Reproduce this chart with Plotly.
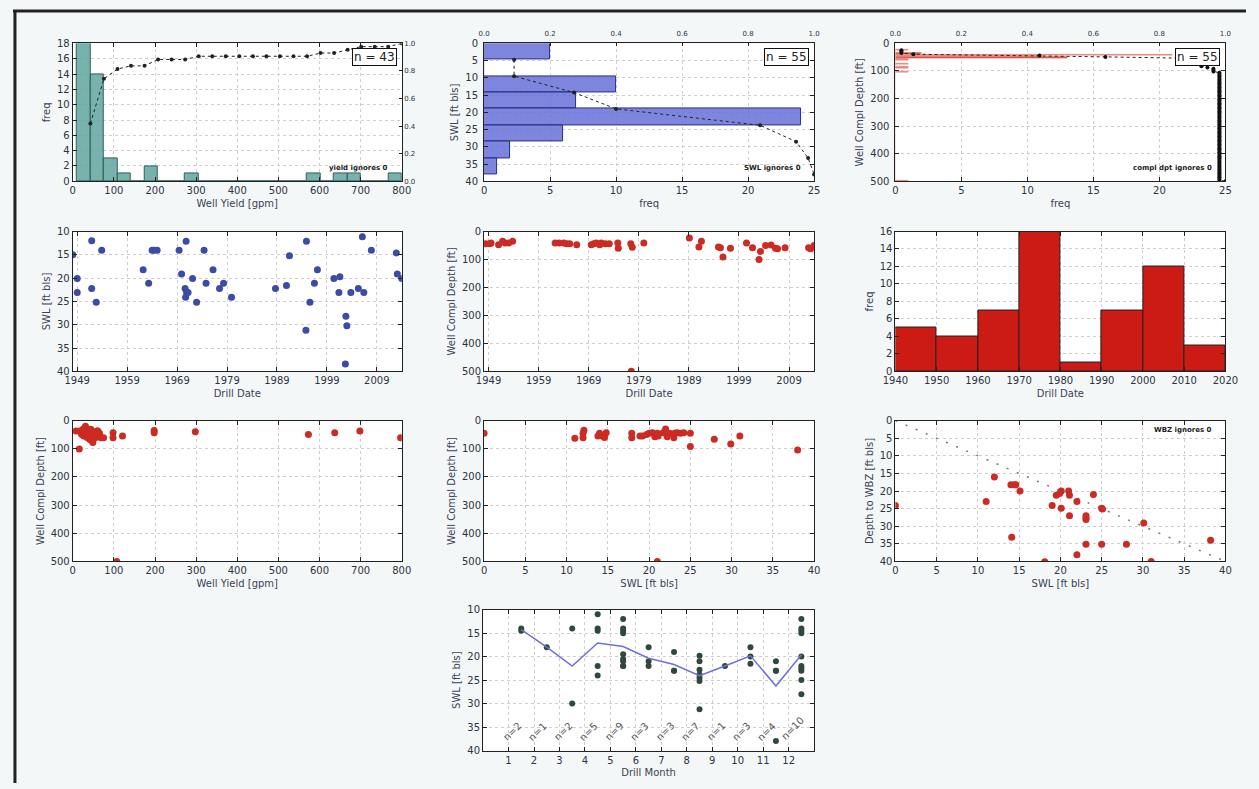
import numpy as np
import plotly.graph_objects as go

W, H = 1259, 789

# ---------------- data ----------------
# Panel 1: well yield histogram (24 bins between min and max yield)
yield_min, yield_max = 10, 800
yield_counts = [18, 14, 3, 1, 0, 2, 0, 0, 1, 0, 0, 0, 0, 0, 0, 0, 0, 1, 0, 1, 1, 0, 0, 1]

# Panel 2: SWL histogram (8 bins)
swl_min, swl_max = 0, 38
swl_counts = [5, 0, 10, 7, 24, 6, 2, 1]

# Panel 3: completion depth histogram (100 bins), non-zero bins listed
depth_min, depth_max, depth_nbins = 20, 500, 100
depth_bin_index = [0, 3, 4, 5, 6, 7, 8, 11, 13, 14, 17, 99]
depth_bin_count = [1, 2, 21, 11, 13, 1, 1, 1, 1, 1, 1, 1]

# Panel 4: SWL vs drill date
swl_dates = [1948.1, 1949.0, 1949.0, 1951.9, 1951.9, 1952.8, 1953.9, 1962.2, 1963.3, 1964.0,
             1964.4, 1965.0, 1969.4, 1969.9, 1970.8, 1970.6, 1970.9, 1971.2, 1970.7, 1972.1,
             1972.9, 1974.4, 1974.8, 1976.2, 1977.5, 1978.3, 1979.9, 1988.7, 1990.9, 1991.5,
             1994.9, 1994.8, 1995.6, 1996.5, 1997.1, 2000.4, 2001.6, 2001.4, 2002.8, 2003.0,
             2002.7, 2003.8, 2005.3, 2006.1, 2006.4, 2007.9, 2012.9, 2013.1, 2014.0]
swl_vals = [15.0, 20.1, 23.1, 12.0, 22.2, 25.2, 14.0, 18.2, 21.1, 14, 14, 14, 14, 19.1, 12.1,
            22.2, 23.1, 23.1, 24.1, 20.1, 25.2, 14, 21.1, 18.2, 22.2, 21.1, 24.1, 22.2, 21.6,
            15.2, 12.1, 31.2, 25.2, 21.1, 18.2, 20.1, 19.7, 23.1, 28.2, 30.2, 38.4, 23.1, 22.2,
            11.1, 23.1, 14.0, 14.6, 19.1, 20.1]

# Panel 5: completion depth vs drill date
dep_dates = [1948.4, 1949.2, 1949.5, 1951.0, 1951.8, 1952.3, 1953.0, 1953.8, 1962.3, 1963.1,
             1964.0, 1964.6, 1965.2, 1966.6, 1969.5, 1970.0, 1970.5, 1971.2, 1971.5, 1972.3,
             1973.1, 1974.8, 1974.9, 1977.4, 1977.7, 1980.0, 1977.5, 1989.1, 1991.0, 1991.5,
             1994.9, 1995.3, 1995.8, 1997.3, 2000.5, 2001.7, 2003.0, 2003.3, 2004.3, 2005.4,
             2006.3, 2006.7, 2008.2, 2012.9, 2013.3, 2014.0]
dep_vals = [44, 44, 41, 47, 35, 41, 41, 35, 41, 41, 41, 44, 44, 47, 47, 44, 41, 47, 41, 44,
            44, 41, 60, 44, 56, 41, 500, 23, 55, 35, 55, 58, 91, 60, 41, 58, 100, 71, 50, 48,
            60, 62, 58, 58, 62, 50]
date_range = [1948.1, 2014.0]
date_ticks = [1949, 1959, 1969, 1979, 1989, 1999, 2009]

# Panel 6: drill date histogram
decade_edges = [1940, 1950, 1960, 1970, 1980, 1990, 2000, 2010, 2020]
decade_counts = [5, 4, 7, 16, 1, 7, 12, 3]

# Panel 7: depth vs yield
yd_yield = [8, 16, 17, 20, 22, 25, 27, 29, 30, 31, 33, 35, 36, 38, 40, 41, 43, 44, 45, 47, 49,
            50, 52, 55, 57, 59, 61, 63, 65, 69, 75, 98, 98, 107, 121, 198, 198, 298, 573, 637,
            698, 797]
yd_depth = [37, 101, 37, 43, 49, 31, 55, 26, 43, 20, 49, 60, 37, 55, 43, 66, 49, 31, 70, 55, 78,
            43, 41, 61, 49, 37, 37, 55, 45, 61, 61, 43, 61, 500, 55, 35, 43, 40, 49, 43, 37, 61]

# Panel 8: depth vs SWL
sd_swl = [0, 11, 12, 12, 12.1, 13.8, 14, 14.3, 14.8, 14.6, 17.9, 17.9, 18.9, 19.2, 19.7, 20,
          20.4, 20.7, 21, 21.1, 21.7, 22, 22.2, 22.5, 23, 23.1, 23.4, 23.8, 24.2, 25, 25, 27.9,
          29.9, 31, 38, 21]
sd_depth = [45, 63, 61, 45, 34, 55, 45, 55, 43, 60, 45, 61, 55, 55, 49, 45, 43, 57, 45, 55, 43,
            30, 57, 45, 61, 45, 43, 45, 43, 45, 92, 66, 83, 55, 104, 500]

# Panel 9: depth to WBZ vs SWL
wbz_swl = [0, 11, 12, 14, 14.4, 14.6, 14.1, 15.1, 18.1, 19.0, 19.5, 19.9, 20.1, 20.1, 21, 21.1,
           21.1, 22, 22, 23.1, 23.1, 23.1, 23.1, 24, 25, 25.1, 25, 28, 30.1, 31, 38.2]
wbz_depth = [24.1, 23, 16, 18.2, 18.2, 18.2, 33.1, 20, 40.1, 24.1, 21.2, 20.7, 20, 24.9, 20,
             21.2, 27, 23, 38.1, 27, 27.7, 28.1, 35.1, 21, 24.9, 25.1, 35.1, 35.1, 29.1, 40, 34]

# Panel 10: SWL by drill month
months = [1, 2, 3, 4, 5, 6, 7, 8, 9, 10, 11, 12]
month_swl = [
    [14, 14.5],
    [18],
    [14, 30],
    [11, 14, 14.5, 22, 24],
    [12, 14, 14.5, 15, 19.5, 20.5, 21, 22, 22],
    [18, 21, 22],
    [19, 23, 23],
    [19.8, 21, 22.8, 23.8, 24.5, 25.2, 31.2],
    [22],
    [18, 20, 21.5],
    [21, 23, 23, 38],
    [12, 14, 14.5, 15, 20, 22, 22.5, 23, 25, 28],
]

# ---------------- style ----------------
FONT = "DejaVu Sans"
TXT = "#2e3340"
TEAL_FILL = "rgba(95,165,158,0.85)"
BLUE_FILL = "rgba(102,112,214,0.85)"
RED = "#cc2a22"
DOT_BLUE = "#3b4ba6"
GREEN = "#2f4a3c"

cols = [(61, 397), (481, 818), (901, 1238)]
rows = [(38, 178), (229, 371), (421, 564), (613, 756)]


def dx(c):
    return [c[0] / W, c[1] / W]


def dy(r):
    return [1 - r[1] / H, 1 - r[0] / H]


def ax(**kw):
    d = dict(showline=True, linecolor="#222", linewidth=1, ticks="inside", ticklen=4,
             tickcolor="#222", tickfont=dict(size=10, color=TXT, family=FONT),
             showgrid=True, gridcolor="#cfcfcf", griddash="dot", gridwidth=1,
             zeroline=False, title_font=dict(size=10, color="#3a4254", family=FONT),
             title_standoff=4)
    d.update(kw)
    return d


def sec(**kw):
    d = dict(showline=True, linecolor="#222", linewidth=1, ticks="inside", ticklen=3,
             tickcolor="#222", tickfont=dict(size=7, color=TXT, family=FONT),
             showgrid=False, zeroline=False, range=[0, 1], dtick=0.2, tickformat=".1f")
    d.update(kw)
    return d


fig = go.Figure()

# ---- Panel 1 ----
y_edges = np.linspace(yield_min, yield_max, len(yield_counts) + 1)
y_width = y_edges[1] - y_edges[0]
y_centers = (y_edges[:-1] + y_edges[1:]) / 2
fig.add_trace(go.Bar(x=y_centers, y=yield_counts, width=y_width, marker=dict(
    color=TEAL_FILL, line=dict(color="#2f5f5c", width=1)), xaxis="x", yaxis="y"))
y_cdf = np.cumsum(yield_counts) / np.sum(yield_counts)
fig.add_trace(go.Scatter(x=y_edges[1:], y=y_cdf, mode="lines+markers",
                         line=dict(color="#222", width=1, dash="dot"),
                         marker=dict(color="#222", size=4), xaxis="x", yaxis="y2"))

# ---- Panel 2 ----
s_edges = np.linspace(swl_min, swl_max, len(swl_counts) + 1)
s_width = s_edges[1] - s_edges[0]
s_centers = (s_edges[:-1] + s_edges[1:]) / 2
fig.add_trace(go.Bar(y=s_centers, x=swl_counts, width=s_width, orientation="h", marker=dict(
    color=BLUE_FILL, line=dict(color="#27318a", width=1)), xaxis="x2", yaxis="y3"))
s_cdf = np.cumsum(swl_counts) / np.sum(swl_counts)
fig.add_trace(go.Scatter(x=s_cdf, y=s_edges[1:], mode="lines+markers",
                         line=dict(color="#222", width=1, dash="dot"),
                         marker=dict(color="#222", size=4), xaxis="x3", yaxis="y3"))

# ---- Panel 3 ----
d_edges = np.linspace(depth_min, depth_max, depth_nbins + 1)
d_width = d_edges[1] - d_edges[0]
d_full = np.zeros(depth_nbins)
for i, c in zip(depth_bin_index, depth_bin_count):
    d_full[i] = c
d_centers = (d_edges[:-1] + d_edges[1:]) / 2
fig.add_trace(go.Bar(y=d_centers, x=d_full, width=d_width, orientation="h", marker=dict(
    color="#d0463a", line=dict(color="#f0b0a8", width=0.5)), xaxis="x4", yaxis="y4"))
d_cdf = np.cumsum(d_full) / np.sum(d_full)
fig.add_trace(go.Scatter(x=d_cdf, y=d_edges[1:], mode="lines+markers",
                         line=dict(color="#222", width=1, dash="dot"),
                         marker=dict(color="#111", size=4), xaxis="x5", yaxis="y4"))

# ---- Panel 4 ----
fig.add_trace(go.Scatter(x=swl_dates, y=swl_vals, mode="markers",
                         marker=dict(color=DOT_BLUE, size=7), xaxis="x6", yaxis="y5"))
# ---- Panel 5 ----
fig.add_trace(go.Scatter(x=dep_dates, y=dep_vals, mode="markers",
                         marker=dict(color=RED, size=7), xaxis="x7", yaxis="y6"))
# ---- Panel 6 ----
dec_centers = [(a + b) / 2 for a, b in zip(decade_edges[:-1], decade_edges[1:])]
fig.add_trace(go.Bar(x=dec_centers, y=decade_counts, width=10,
                     marker=dict(color="#cc1a14", line=dict(color="#222", width=1)),
                     xaxis="x8", yaxis="y7"))
# ---- Panel 7 ----
fig.add_trace(go.Scatter(x=yd_yield, y=yd_depth, mode="markers",
                         marker=dict(color=RED, size=7), xaxis="x9", yaxis="y8"))
# ---- Panel 8 ----
fig.add_trace(go.Scatter(x=sd_swl, y=sd_depth, mode="markers",
                         marker=dict(color=RED, size=7), xaxis="x10", yaxis="y9"))
# ---- Panel 9 ----
fig.add_trace(go.Scatter(x=[0, 40], y=[0, 40], mode="lines",
                         line=dict(color="#777", width=1.5, dash="2px,9px"),
                         xaxis="x11", yaxis="y10"))
fig.add_trace(go.Scatter(x=wbz_swl, y=wbz_depth, mode="markers",
                         marker=dict(color=RED, size=7), xaxis="x11", yaxis="y10"))
# ---- Panel 10 ----
mx, my = [], []
for m, vals in zip(months, month_swl):
    mx += [m + 0.5] * len(vals)
    my += vals
fig.add_trace(go.Scatter(x=mx, y=my, mode="markers", marker=dict(color=GREEN, size=6),
                         xaxis="x12", yaxis="y11"))
means = [float(np.mean(v)) for v in month_swl]
fig.add_trace(go.Scatter(x=[m + 0.5 for m in months], y=means, mode="lines",
                         line=dict(color="#6f6fd8", width=1.5), xaxis="x12", yaxis="y11"))

annotations = []
for m, vals in zip(months, month_swl):
    annotations.append(dict(x=m + 0.15, y=36.0 if len(vals) < 10 else 35.3,
                            xref="x12", yref="y11", text="n=%d" % len(vals),
                            showarrow=False, textangle=-45,
                            font=dict(size=10, color="#555", family=FONT)))


def nbox(xref, yref, text):
    return dict(x=0.985, y=0.965, xref=xref + " domain", yref=yref + " domain", text=text,
                xanchor="right", yanchor="top", showarrow=False, bgcolor="white",
                bordercolor="#111", borderwidth=1, borderpad=1,
                font=dict(size=12, color="#222", family=FONT))


def note(xref, yref, text, y=0.1):
    return dict(x=0.965, y=y, xref=xref + " domain", yref=yref + " domain",
                text="<b>" + text + "</b>", xanchor="right", yanchor="middle",
                showarrow=False, font=dict(size=7, color="#222", family=FONT))


annotations += [
    nbox("x", "y", "n = 43"), note("x", "y", "yield ignores 0"),
    nbox("x2", "y3", "n = 55"), note("x2", "y3", "SWL ignores 0"),
    nbox("x4", "y4", "n = 55"), note("x4", "y4", "compl dpt ignores 0"),
    note("x11", "y10", "WBZ ignores 0", y=0.93),
]

layout = dict(
    width=W, height=H, autosize=False, showlegend=False,
    margin=dict(l=0, r=0, t=0, b=0),
    paper_bgcolor="#f4f7f8", plot_bgcolor="white",
    font=dict(family=FONT, color=TXT), bargap=0,
    annotations=annotations,
    shapes=[
        dict(type="line", xref="paper", yref="paper", x0=0, x1=1, y0=1 - 5 / H, y1=1 - 5 / H,
             line=dict(color="#222", width=3)),
        dict(type="line", xref="paper", yref="paper", x0=2 / W, x1=2 / W, y0=0, y1=1 - 5 / H,
             line=dict(color="#222", width=3)),
    ],
    # Panel 1
    xaxis=ax(domain=dx(cols[0]), anchor="y", range=[0, 800], dtick=100, mirror="ticks",
             title_text="Well Yield [gpm]"),
    yaxis=ax(domain=dy(rows[0]), anchor="x", range=[0, 18], dtick=2, title_text="freq"),
    yaxis2=sec(overlaying="y", side="right", anchor="x"),
    # Panel 2
    xaxis2=ax(domain=dx(cols[1]), anchor="y3", range=[0, 25], dtick=5, title_text="freq"),
    xaxis3=sec(overlaying="x2", side="top", anchor="y3", ticklabelstandoff=4),
    yaxis3=ax(domain=dy(rows[0]), anchor="x2", range=[40, 0], dtick=5, mirror="ticks",
              title_text="SWL [ft bls]", ticklabelstandoff=3),
    # Panel 3
    xaxis4=ax(domain=dx(cols[2]), anchor="y4", range=[0, 25], dtick=5, title_text="freq"),
    xaxis5=sec(overlaying="x4", side="top", anchor="y4", ticklabelstandoff=4),
    yaxis4=ax(domain=dy(rows[0]), anchor="x4", range=[500, 0], dtick=100, mirror="ticks",
              title_text="Well Compl Depth [ft]", ticklabelstandoff=3),
    # Panel 4
    xaxis6=ax(domain=dx(cols[0]), anchor="y5", range=date_range, tickvals=date_ticks,
              mirror="ticks", title_text="Drill Date"),
    yaxis5=ax(domain=dy(rows[1]), anchor="x6", range=[40, 10], dtick=5, mirror="ticks",
              title_text="SWL [ft bls]"),
    # Panel 5
    xaxis7=ax(domain=dx(cols[1]), anchor="y6", range=date_range, tickvals=date_ticks,
              mirror="ticks", title_text="Drill Date"),
    yaxis6=ax(domain=dy(rows[1]), anchor="x7", range=[500, 0], dtick=100, mirror="ticks",
              title_text="Well Compl Depth [ft]"),
    # Panel 6
    xaxis8=ax(domain=dx(cols[2]), anchor="y7", range=[1940, 2020], dtick=10, mirror="ticks",
              title_text="Drill Date"),
    yaxis7=ax(domain=dy(rows[1]), anchor="x8", range=[0, 16], dtick=2, mirror="ticks",
              title_text="freq"),
    # Panel 7
    xaxis9=ax(domain=dx(cols[0]), anchor="y8", range=[0, 800], dtick=100, mirror="ticks",
              title_text="Well Yield [gpm]"),
    yaxis8=ax(domain=dy(rows[2]), anchor="x9", range=[500, 0], dtick=100, mirror="ticks",
              title_text="Well Compl Depth [ft]"),
    # Panel 8
    xaxis10=ax(domain=dx(cols[1]), anchor="y9", range=[0, 40], dtick=5, mirror="ticks",
               title_text="SWL [ft bls]"),
    yaxis9=ax(domain=dy(rows[2]), anchor="x10", range=[500, 0], dtick=100, mirror="ticks",
              title_text="Well Compl Depth [ft]"),
    # Panel 9
    xaxis11=ax(domain=dx(cols[2]), anchor="y10", range=[0, 40], dtick=5, mirror="ticks",
               title_text="SWL [ft bls]"),
    yaxis10=ax(domain=dy(rows[2]), anchor="x11", range=[40, 0], dtick=5, mirror="ticks",
               title_text="Depth to WBZ [ft bls]"),
    # Panel 10
    xaxis12=ax(domain=dx((480, 818)), anchor="y11", range=[0, 13], tickvals=months,
               mirror="ticks", title_text="Drill Month"),
    yaxis11=ax(domain=dy(rows[3]), anchor="x12", range=[40, 10], dtick=5, mirror="ticks",
               title_text="SWL [ft bls]"),
)
fig.update_layout(**layout)

post = (
    "document.body.style.margin='0';document.body.style.padding='0';"
    "document.body.style.overflow='hidden';"
)
fig.write_html("out.html", config={"displayModeBar": False}, post_script=post)
